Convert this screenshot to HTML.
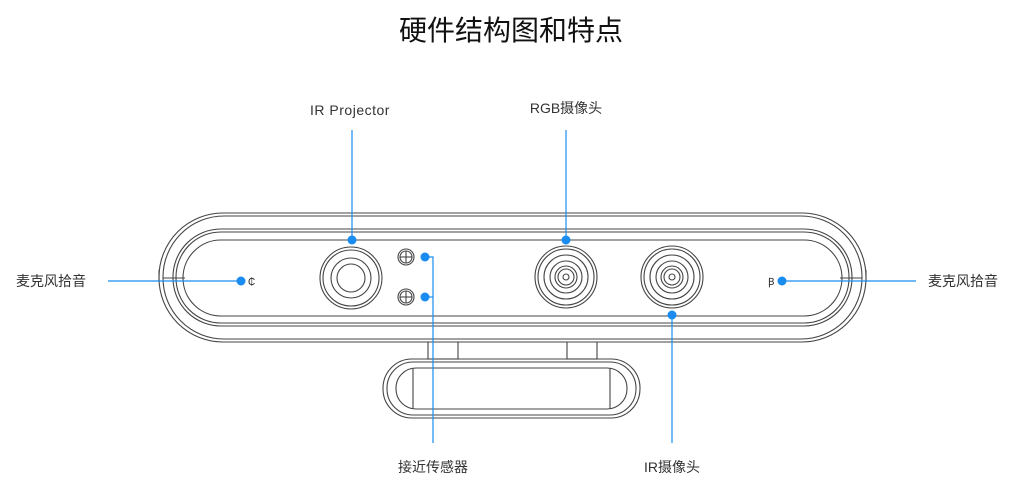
<!DOCTYPE html>
<html><head><meta charset="utf-8"><style>
html,body{margin:0;padding:0;background:#fff;}
svg{display:block;}
text{font-family:"Liberation Sans","Noto Sans CJK SC",sans-serif;fill:#333;}
</style></head><body>
<svg width="1021" height="498" viewBox="0 0 1021 498" xmlns="http://www.w3.org/2000/svg">
<text x="511" y="40" font-size="28" text-anchor="middle" style="fill:#111">硬件结构图和特点</text>
<text x="350" y="115" font-size="14" text-anchor="middle" letter-spacing="0.5">IR Projector</text>
<text x="566" y="113" font-size="14" text-anchor="middle">RGB摄像头</text>
<text x="16" y="286" font-size="14">麦克风拾音</text>
<text x="928" y="286" font-size="14">麦克风拾音</text>
<text x="433" y="472" font-size="14" text-anchor="middle">接近传感器</text>
<text x="672" y="472" font-size="14" text-anchor="middle">IR摄像头</text>

<g fill="none" stroke="#444" stroke-width="1.1">
 <!-- stand -->
 <rect x="428" y="341" width="30" height="18"/>
 <rect x="567" y="341" width="30" height="18"/>
 <rect x="383" y="359" width="257" height="59" rx="29"/>
 <rect x="387" y="362" width="249" height="53" rx="26"/>
 <rect x="396" y="368" width="231" height="41" rx="20"/>
 <line x1="413" y1="368" x2="413" y2="409"/>
 <line x1="610" y1="368" x2="610" y2="409"/>
 <!-- body -->
 <rect x="159" y="213" width="707" height="129" rx="64" fill="#fff"/>
 <rect x="163" y="216" width="699" height="123" rx="61"/>
 <rect x="173" y="229" width="679" height="97" rx="48"/>
 <rect x="176" y="232" width="673" height="91" rx="45"/>
 <rect x="183" y="240" width="659" height="76" rx="38"/>
 <line x1="159" y1="270" x2="159" y2="282"/>
 <line x1="866" y1="270" x2="866" y2="282"/>
 <line x1="163" y1="278" x2="185" y2="278"/>
 <line x1="840" y1="278" x2="862" y2="278"/>
 <!-- IR projector -->
 <circle cx="351" cy="278" r="31"/><circle cx="351" cy="278" r="28"/>
 <circle cx="351" cy="278" r="20"/><circle cx="351" cy="278" r="14"/>
 <!-- proximity -->
 <circle cx="406" cy="257" r="8"/><circle cx="406" cy="257" r="6"/>
 <line x1="400" y1="257" x2="412" y2="257"/><line x1="406" y1="251" x2="406" y2="263"/>
 <circle cx="406" cy="297" r="8"/><circle cx="406" cy="297" r="6"/>
 <line x1="400" y1="297" x2="412" y2="297"/><line x1="406" y1="291" x2="406" y2="303"/>
 <!-- RGB -->
 <circle cx="566" cy="277" r="31"/><circle cx="566" cy="277" r="28"/>
 <circle cx="566" cy="277" r="22"/><circle cx="566" cy="277" r="16"/>
 <circle cx="566" cy="277" r="11"/><circle cx="566" cy="277" r="8"/><circle cx="566" cy="277" r="3"/>
 <!-- IR cam -->
 <circle cx="672" cy="277" r="31"/><circle cx="672" cy="277" r="28"/>
 <circle cx="672" cy="277" r="22"/><circle cx="672" cy="277" r="16"/>
 <circle cx="672" cy="277" r="11"/><circle cx="672" cy="277" r="8"/><circle cx="672" cy="277" r="3"/>
</g>
<text x="248" y="285" font-size="10" style="fill:#222">₵</text>
<text x="768" y="285" font-size="10" style="fill:#222">Ꞵ</text>

<g stroke="#1a8cf0" stroke-width="1.2" fill="none">
 <line x1="352" y1="130" x2="352" y2="240"/>
 <line x1="566" y1="130" x2="566" y2="240"/>
 <line x1="108" y1="281" x2="241" y2="281"/>
 <line x1="782" y1="281" x2="916" y2="281"/>
 <polyline points="425,257 433,257 433,443"/>
 <line x1="425" y1="297" x2="433" y2="297"/>
 <line x1="672" y1="315" x2="672" y2="443"/>
</g>
<g fill="#1a8cf0">
 <circle cx="352" cy="240" r="4.5"/>
 <circle cx="566" cy="240" r="4.5"/>
 <circle cx="241" cy="281" r="4.5"/>
 <circle cx="782" cy="281" r="4.5"/>
 <circle cx="425" cy="257" r="4.5"/>
 <circle cx="425" cy="297" r="4.5"/>
 <circle cx="672" cy="315" r="4.5"/>
</g>
</svg>
</body></html>
